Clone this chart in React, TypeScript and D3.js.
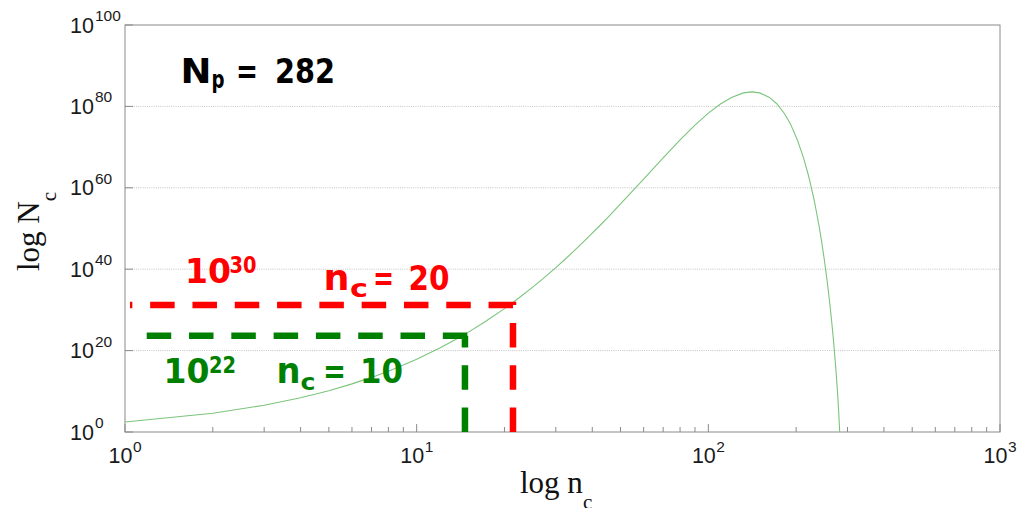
import React from "react";
import * as d3 from "d3";

// Curve samples: n_c and log10(N_c) for N_p = 282
const nValues = [1, 2, 3, 4, 5, 6, 7, 8, 9, 10, 12, 14, 15, 17, 20, 22, 25, 27, 30, 32, 35, 37, 40, 42, 45, 50, 60, 70, 80, 90, 100, 110, 120, 132, 141, 150, 162, 172, 182, 190, 192, 202, 212, 220, 222, 230, 232, 240, 245, 250, 255, 260, 265, 268, 270, 272, 275, 276, 277, 278, 279, 280, 281, 282];
const logNcValues = [2.450, 4.598, 6.568, 8.412, 10.157, 11.821, 13.417, 14.953, 16.437, 17.873, 20.620, 23.221, 24.473, 26.890, 30.319, 32.490, 35.590, 37.562, 40.390, 42.194, 44.789, 46.448, 48.837, 50.367, 52.572, 56.022, 62.155, 67.371, 71.764, 75.402, 78.333, 80.594, 82.209, 83.319, 83.568, 83.319, 82.209, 80.594, 78.333, 76.043, 75.402, 71.764, 67.371, 63.267, 62.155, 57.328, 56.022, 50.367, 46.448, 42.194, 37.562, 32.490, 26.890, 23.221, 20.620, 17.873, 13.417, 11.821, 10.157, 8.412, 6.568, 4.598, 2.450, 0];

const xTickValues = [1, 10, 100, 1000];
const xTickExponents = ["0", "1", "2", "3"];
const yTickValues = [1, 1e20, 1e40, 1e60, 1e80, 1e100];
const yTickExponents = ["0", "20", "40", "60", "80", "100"];

// Marker lines: [n_c at corner, log10 N_c at corner, n at left end]
const greenMarker = [14.64, 23.66, 1.187];
const redMarker = [21.39, 31.2, 1.04];

const W = 1017, H = 508;
const left = 125, right = 1000, top = 25, bottom = 432;

const axisFont = "'Liberation Sans', Arial, Helvetica, sans-serif";
const serif = "'Liberation Serif', 'Times New Roman', serif";
const bold = "'DejaVu Sans', Verdana, sans-serif";

function Piece({ x, y, w, size, fill, children }: any) {
  return (
    <text x={x} y={y} fontSize={size} fontFamily={bold} fontWeight="bold" fill={fill}
      textLength={w} lengthAdjust="spacingAndGlyphs">{children}</text>
  );
}

export default function App() {
  const x = d3.scaleLog().domain([1, 1000]).range([left, right]);
  const y = d3.scaleLog().domain([1, 1e100]).range([bottom, top]);

  const pts: [number, number][] = nValues.map((n, i) => [n, Math.pow(10, logNcValues[i])]);
  const line = d3.line<[number, number]>().x(d => x(d[0])).y(d => y(d[1]));

  const minor: number[] = [];
  for (let k = 0; k < 3; k++) for (let m = 2; m <= 9; m++) minor.push(m * Math.pow(10, k));

  const corner = (m: number[]) => [x(m[0]), y(Math.pow(10, m[1])), x(m[2])];
  const [gx, gy, gl] = corner(greenMarker);
  const [rx, ry, rl] = corner(redMarker);

  const gray = "#8a8a8a";
  const dash = "24.5 17.8";

  return (
    <svg width={W} height={H} style={{ position: "absolute", left: 0, top: 0, background: "#fff" }}>
      {/* grid */}
      {yTickValues.slice(1, -1).map((v, i) => (
        <line key={"g" + i} x1={left} x2={right} y1={y(v)} y2={y(v)} stroke="#c4c4c4" strokeWidth={1} strokeDasharray="1 1.2" />
      ))}
      {/* y ticks */}
      {yTickValues.map((v, i) => (
        <line key={"yt" + i} x1={left} x2={left + 8} y1={y(v)} y2={y(v)} stroke={gray} strokeWidth={1} />
      ))}
      {/* x ticks */}
      {xTickValues.map((v, i) => (
        <line key={"xt" + i} x1={x(v)} x2={x(v)} y1={bottom} y2={bottom - 8} stroke={gray} strokeWidth={1} />
      ))}
      {minor.map((v, i) => (
        <line key={"xm" + i} x1={x(v)} x2={x(v)} y1={bottom} y2={bottom - 5} stroke={gray} strokeWidth={1} />
      ))}
      {/* frame */}
      <rect x={left} y={top} width={right - left} height={bottom - top} fill="none" stroke={gray} strokeWidth={1} />

      {/* curve */}
      <path d={line(pts) || ""} fill="none" stroke="#7cc47c" strokeWidth={1.1} />

      {/* marker lines */}
      <path d={`M${gx},${bottom}V${gy}`} fill="none" stroke="#008000" strokeWidth={6.5} strokeDasharray={dash} />
      <path d={`M${gl},${gy}H${gx + 3}`} fill="none" stroke="#008000" strokeWidth={6.5} strokeDasharray={dash} />
      <path d={`M${rx},${bottom}V${ry}H${rl}`} fill="none" stroke="#ff0000" strokeWidth={6.5} strokeDasharray={dash} />

      {/* y tick labels */}
      {yTickValues.map((v, i) => (
        <g key={"yl" + i} fontFamily={axisFont} fill="#1a1a1a">
          <text x={94} y={y(v) + 7.5} fontSize={21.5} textAnchor="end">10</text>
          <text x={95} y={y(v) - 4} fontSize={15.5}>{yTickExponents[i]}</text>
        </g>
      ))}
      {/* x tick labels */}
      {xTickValues.map((v, i) => (
        <g key={"xl" + i} fontFamily={axisFont} fill="#1a1a1a">
          <text x={x(v) + 7.5} y={462.5} fontSize={21.5} textAnchor="end">10</text>
          <text x={x(v) + 8} y={451.5} fontSize={15.5}>{xTickExponents[i]}</text>
        </g>
      ))}

      {/* axis titles */}
      <text x={520} y={493} fontFamily={serif} fontSize={31} fill="#111">log n<tspan fontSize={21} dy={15.5}>c</tspan></text>
      <text transform="translate(39,271) rotate(-90)" fontFamily={serif} fontSize={31} fill="#111">log N<tspan fontSize={21} dy={17}>c</tspan></text>

      {/* N_p = 282 */}
      <Piece x={180.5} y={83} w={31} size={34} fill="#000">N</Piece>
      <Piece x={211.5} y={88} w={13} size={24} fill="#000">p</Piece>
      <Piece x={236} y={83} w={22} size={34} fill="#000">=</Piece>
      <Piece x={275} y={83} w={60} size={34} fill="#000">282</Piece>

      {/* red annotation */}
      <Piece x={185} y={283.3} w={46} size={34} fill="#ff0000">10</Piece>
      <Piece x={229.5} y={273} w={27} size={22.5} fill="#ff0000">30</Piece>
      <Piece x={323.5} y={290} w={26} size={36} fill="#ff0000">n</Piece>
      <Piece x={350} y={297} w={18} size={24} fill="#ff0000">c</Piece>
      <Piece x={373} y={290} w={21} size={34} fill="#ff0000">=</Piece>
      <Piece x={408.5} y={290} w={41} size={34} fill="#ff0000">20</Piece>

      {/* green annotation */}
      <Piece x={163.5} y={383.3} w={46} size={34} fill="#008000">10</Piece>
      <Piece x={209} y={373} w={27} size={22.5} fill="#008000">22</Piece>
      <Piece x={276.5} y={383.3} w={24} size={36} fill="#008000">n</Piece>
      <Piece x={300.5} y={390} w={15} size={23} fill="#008000">c</Piece>
      <Piece x={323} y={383.3} w={23} size={34} fill="#008000">=</Piece>
      <Piece x={360} y={383.3} w={43} size={34} fill="#008000">10</Piece>
    </svg>
  );
}
